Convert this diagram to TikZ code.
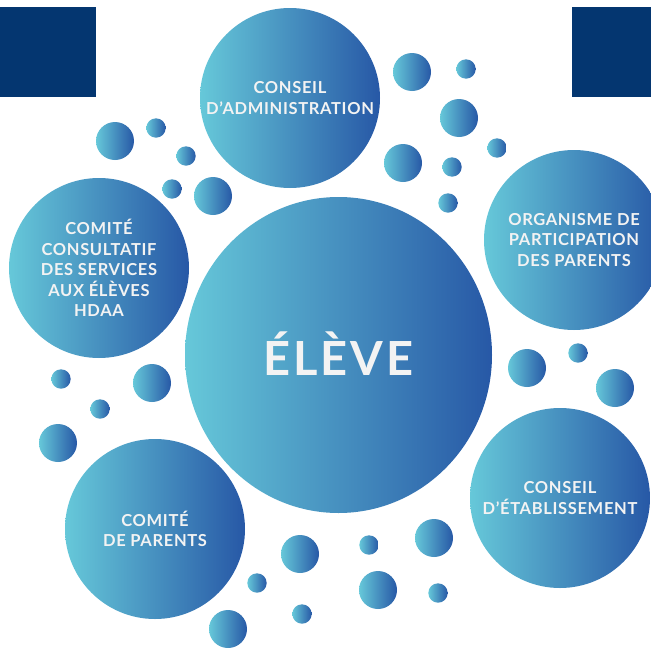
\documentclass[tikz,border=0pt]{standalone}
\usepackage{fontspec}
\setmainfont{Lato}
\usetikzlibrary{shapes.geometric}

\definecolor{navy}{RGB}{4,54,112}
\definecolor{bubleft}{RGB}{102,200,217}
\definecolor{bubright}{RGB}{39,88,166}
\definecolor{txtwhite}{RGB}{243,243,243}

\begin{document}
\begin{tikzpicture}[x=1pt,y=-1pt,
  main node/.style={circle,minimum size=180pt,inner sep=0pt,
    left color=bubleft,right color=bubright,text=txtwhite,align=center,
    font=\bfseries\fontsize{16.5}{20.5}\selectfont\addfontfeature{LetterSpace=4}},
  big node/.style={ellipse,minimum width=307pt,minimum height=316pt,inner sep=0pt,
    left color=bubleft,right color=bubright,text=txtwhite,
    text height=40pt,text depth=0pt,
    font=\bfseries\fontsize{47}{47}\selectfont\addfontfeature{LetterSpace=6}},
  bubble/.style={left color=bubleft,right color=bubright}]
  \useasboundingbox (0,0) rectangle (651,648);

  % corner blocks
  \fill[navy] (0,7) rectangle (96,97);
  \fill[navy] (572,7) rectangle (651,97);

  % small bubbles
  \foreach \x/\y/\r in {115/141/19, 156/128/9.7, 186/156/9.7, 172/189/9.7, 213/196/19,
      412/72/19, 403/163/19, 466/69/9.7, 459/118/19, 497/148/9.7, 452/167/9.7, 448/203/9.7,
      61/379/9.7, 152/383/19, 100/409/9.7, 58/443/19,
      527/368/19, 578/353/9.7, 615/388/19,
      300/554/19, 257/583/9.7, 302/614/9.7, 228/629/19, 369/545/9.7, 378/590/19,
      434/538/19, 438/593/9.7}
    \shade[bubble] (\x,\y) circle (\r pt);

  \node[big node] (eleve) at (338.5,355) {ÉLÈVE};
  \node[main node] (admin) at (290,98) {CONSEIL\\D’ADMINISTRATION};
  \node[main node] (hdaa) at (99,268) {COMITÉ\\CONSULTATIF\\DES SERVICES\\AUX ÉLÈVES\\HDAA};
  \node[main node] (opp) at (574,240) {ORGANISME DE\\PARTICIPATION\\DES PARENTS};
  \node[main node] (ce) at (560,498) {CONSEIL\\D’ÉTABLISSEMENT};
  \node[main node] (cp) at (155,529) {COMITÉ\\DE PARENTS};
\end{tikzpicture}
\end{document}
